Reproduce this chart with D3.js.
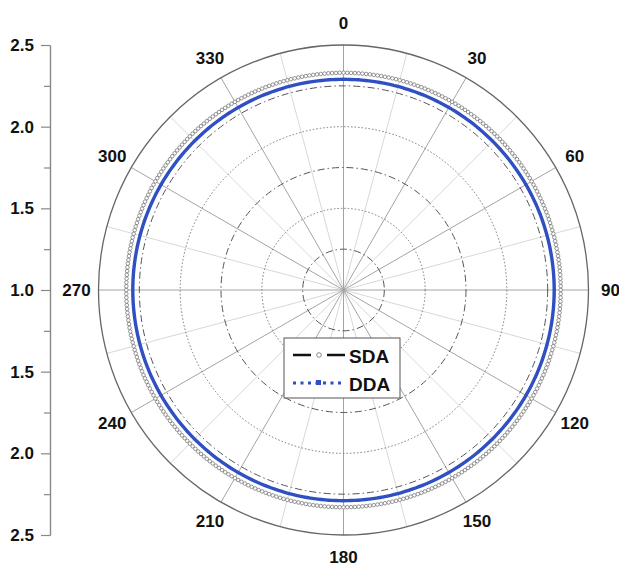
<!DOCTYPE html>
<html>
<head>
<meta charset="utf-8">
<script src="https://cdn.jsdelivr.net/npm/d3@7"></script>
<style>
  body { margin: 0; background: #fff; }
  svg { display: block; font-family: "Liberation Sans", Arial, sans-serif; }
</style>
</head>
<body>
<svg id="chart" width="619" height="569"></svg>
<script>
// ---- data ----
var angleLabels = [0, 30, 60, 90, 120, 150, 180, 210, 240, 270, 300, 330];
var gridRadii = [1.25, 1.5, 1.75, 2.0, 2.25];
var gridStyles = ["dashdot", "dot", "dashdot", "dot", "dashdot"];
var leftTicks = [-1.5, -1.0, -0.5, 0, 0.5, 1.0, 1.5];
var leftMinor = [-1.25, -0.75, -0.25, 0.25, 0.75, 1.25];

// one value per degree, 0..359
var sdaValues = [
  2.33,2.33,2.33,2.33,2.33,2.33,2.33,2.33,2.33,2.33,2.33,2.33,2.33,2.33,2.33,2.33,2.33,2.33,2.33,2.33,2.33,2.33,2.33,2.33,2.33,2.33,2.33,2.33,2.33,2.33,2.33,2.33,2.33,2.33,2.33,2.33,
  2.33,2.33,2.33,2.33,2.33,2.33,2.33,2.33,2.33,2.33,2.33,2.33,2.33,2.33,2.33,2.33,2.33,2.33,2.33,2.33,2.33,2.33,2.33,2.33,2.33,2.33,2.33,2.33,2.33,2.33,2.33,2.33,2.33,2.33,2.33,2.33,
  2.33,2.33,2.33,2.33,2.33,2.33,2.33,2.33,2.33,2.33,2.33,2.33,2.33,2.33,2.33,2.33,2.33,2.33,2.33,2.33,2.33,2.33,2.33,2.33,2.33,2.33,2.33,2.33,2.33,2.33,2.33,2.33,2.33,2.33,2.33,2.33,
  2.33,2.33,2.33,2.33,2.33,2.33,2.33,2.33,2.33,2.33,2.33,2.33,2.33,2.33,2.33,2.33,2.33,2.33,2.33,2.33,2.33,2.33,2.33,2.33,2.33,2.33,2.33,2.33,2.33,2.33,2.33,2.33,2.33,2.33,2.33,2.33,
  2.33,2.33,2.33,2.33,2.33,2.33,2.33,2.33,2.33,2.33,2.33,2.33,2.33,2.33,2.33,2.33,2.33,2.33,2.33,2.33,2.33,2.33,2.33,2.33,2.33,2.33,2.33,2.33,2.33,2.33,2.33,2.33,2.33,2.33,2.33,2.33,
  2.33,2.33,2.33,2.33,2.33,2.33,2.33,2.33,2.33,2.33,2.33,2.33,2.33,2.33,2.33,2.33,2.33,2.33,2.33,2.33,2.33,2.33,2.33,2.33,2.33,2.33,2.33,2.33,2.33,2.33,2.33,2.33,2.33,2.33,2.33,2.33,
  2.33,2.33,2.33,2.33,2.33,2.33,2.33,2.33,2.33,2.33,2.33,2.33,2.33,2.33,2.33,2.33,2.33,2.33,2.33,2.33,2.33,2.33,2.33,2.33,2.33,2.33,2.33,2.33,2.33,2.33,2.33,2.33,2.33,2.33,2.33,2.33,
  2.33,2.33,2.33,2.33,2.33,2.33,2.33,2.33,2.33,2.33,2.33,2.33,2.33,2.33,2.33,2.33,2.33,2.33,2.33,2.33,2.33,2.33,2.33,2.33,2.33,2.33,2.33,2.33,2.33,2.33,2.33,2.33,2.33,2.33,2.33,2.33,
  2.33,2.33,2.33,2.33,2.33,2.33,2.33,2.33,2.33,2.33,2.33,2.33,2.33,2.33,2.33,2.33,2.33,2.33,2.33,2.33,2.33,2.33,2.33,2.33,2.33,2.33,2.33,2.33,2.33,2.33,2.33,2.33,2.33,2.33,2.33,2.33,
  2.33,2.33,2.33,2.33,2.33,2.33,2.33,2.33,2.33,2.33,2.33,2.33,2.33,2.33,2.33,2.33,2.33,2.33,2.33,2.33,2.33,2.33,2.33,2.33,2.33,2.33,2.33,2.33,2.33,2.33,2.33,2.33,2.33,2.33,2.33,2.33
];
var ddaValues = [
  2.29,2.29,2.29,2.29,2.29,2.29,2.29,2.29,2.29,2.29,2.29,2.29,2.29,2.29,2.29,2.29,2.29,2.29,2.29,2.29,2.29,2.29,2.29,2.29,2.29,2.29,2.29,2.29,2.29,2.29,2.29,2.29,2.29,2.29,2.29,2.29,
  2.29,2.29,2.29,2.29,2.29,2.29,2.29,2.29,2.29,2.29,2.29,2.29,2.29,2.29,2.29,2.29,2.29,2.29,2.29,2.29,2.29,2.29,2.29,2.29,2.29,2.29,2.29,2.29,2.29,2.29,2.29,2.29,2.29,2.29,2.29,2.29,
  2.29,2.29,2.29,2.29,2.29,2.29,2.29,2.29,2.29,2.29,2.29,2.29,2.29,2.29,2.29,2.29,2.29,2.29,2.29,2.29,2.29,2.29,2.29,2.29,2.29,2.29,2.29,2.29,2.29,2.29,2.29,2.29,2.29,2.29,2.29,2.29,
  2.29,2.29,2.29,2.29,2.29,2.29,2.29,2.29,2.29,2.29,2.29,2.29,2.29,2.29,2.29,2.29,2.29,2.29,2.29,2.29,2.29,2.29,2.29,2.29,2.29,2.29,2.29,2.29,2.29,2.29,2.29,2.29,2.29,2.29,2.29,2.29,
  2.29,2.29,2.29,2.29,2.29,2.29,2.29,2.29,2.29,2.29,2.29,2.29,2.29,2.29,2.29,2.29,2.29,2.29,2.29,2.29,2.29,2.29,2.29,2.29,2.29,2.29,2.29,2.29,2.29,2.29,2.29,2.29,2.29,2.29,2.29,2.29,
  2.29,2.29,2.29,2.29,2.29,2.29,2.29,2.29,2.29,2.29,2.29,2.29,2.29,2.29,2.29,2.29,2.29,2.29,2.29,2.29,2.29,2.29,2.29,2.29,2.29,2.29,2.29,2.29,2.29,2.29,2.29,2.29,2.29,2.29,2.29,2.29,
  2.29,2.29,2.29,2.29,2.29,2.29,2.29,2.29,2.29,2.29,2.29,2.29,2.29,2.29,2.29,2.29,2.29,2.29,2.29,2.29,2.29,2.29,2.29,2.29,2.29,2.29,2.29,2.29,2.29,2.29,2.29,2.29,2.29,2.29,2.29,2.29,
  2.29,2.29,2.29,2.29,2.29,2.29,2.29,2.29,2.29,2.29,2.29,2.29,2.29,2.29,2.29,2.29,2.29,2.29,2.29,2.29,2.29,2.29,2.29,2.29,2.29,2.29,2.29,2.29,2.29,2.29,2.29,2.29,2.29,2.29,2.29,2.29,
  2.29,2.29,2.29,2.29,2.29,2.29,2.29,2.29,2.29,2.29,2.29,2.29,2.29,2.29,2.29,2.29,2.29,2.29,2.29,2.29,2.29,2.29,2.29,2.29,2.29,2.29,2.29,2.29,2.29,2.29,2.29,2.29,2.29,2.29,2.29,2.29,
  2.29,2.29,2.29,2.29,2.29,2.29,2.29,2.29,2.29,2.29,2.29,2.29,2.29,2.29,2.29,2.29,2.29,2.29,2.29,2.29,2.29,2.29,2.29,2.29,2.29,2.29,2.29,2.29,2.29,2.29,2.29,2.29,2.29,2.29,2.29,2.29
];

// ---- layout ----
var cx = 343.5, cy = 290, R = 245;
var svg = d3.select("#chart");
var rScale = d3.scaleLinear().domain([1.0, 2.5]).range([0, R]);
var rad = function(deg) { return deg * Math.PI / 180; };
var dashes = { dashdot: "7,3,1.5,3", dot: "1.5,2" };

var g = svg.append("g").attr("transform", "translate(" + cx + "," + cy + ")");

// *********** SPOKES ***************** //
var minorSpokes = d3.range(15, 360, 30);
g.selectAll(".spoke-minor").data(minorSpokes).enter().append("line")
  .attr("class", "spoke-minor")
  .attr("x1", 0).attr("y1", 0)
  .attr("x2", function(d) { return R * Math.sin(rad(d)); })
  .attr("y2", function(d) { return -R * Math.cos(rad(d)); })
  .attr("stroke", "#d8d8d8")
  .attr("stroke-width", 1);

g.selectAll(".spoke").data(angleLabels).enter().append("line")
  .attr("class", "spoke")
  .attr("x1", 0).attr("y1", 0)
  .attr("x2", function(d) { return R * Math.sin(rad(d)); })
  .attr("y2", function(d) { return -R * Math.cos(rad(d)); })
  .attr("stroke", "#a4a4a4")
  .attr("stroke-width", 1);

// *********** GRID CIRCLES ***************** //
g.selectAll(".ring").data(gridRadii).enter().append("circle")
  .attr("class", "ring")
  .attr("r", function(d) { return rScale(d); })
  .attr("fill", "none")
  .attr("stroke", function(d, i) { return gridStyles[i] == "dot" ? "#777" : "#555"; })
  .attr("stroke-width", 1)
  .attr("stroke-dasharray", function(d, i) { return dashes[gridStyles[i]]; });

g.append("circle")
  .attr("r", rScale(2.5))
  .attr("fill", "none")
  .attr("stroke", "#666")
  .attr("stroke-width", 1.3);

// *********** SERIES ***************** //
var sdaPts = sdaValues.map(function(v, i) { return { a: i * 360 / sdaValues.length, v: v }; });
var ddaPts = ddaValues.map(function(v, i) { return { a: i * 360 / ddaValues.length, v: v }; });

var radial = d3.lineRadial()
  .angle(function(d) { return rad(d.a); })
  .radius(function(d) { return rScale(d.v); })
  .curve(d3.curveLinearClosed);

g.append("path")
  .attr("d", radial(sdaPts))
  .attr("fill", "none")
  .attr("stroke", "#555")
  .attr("stroke-width", 0.8);

g.selectAll(".sda").data(sdaPts).enter().append("circle")
  .attr("class", "sda")
  .attr("cx", function(d) { return rScale(d.v) * Math.sin(rad(d.a)); })
  .attr("cy", function(d) { return -rScale(d.v) * Math.cos(rad(d.a)); })
  .attr("r", 1.8)
  .attr("fill", "#fff")
  .attr("stroke", "#7a7a7a")
  .attr("stroke-width", 0.8);

g.append("path")
  .attr("d", radial(ddaPts))
  .attr("fill", "none")
  .attr("stroke", "#2f4fc2")
  .attr("stroke-width", 3.4);

// *********** ANGLE LABELS ***************** //
g.selectAll(".alabel").data(angleLabels).enter().append("text")
  .attr("class", "alabel")
  .attr("x", function(d) { return (R + 22) * Math.sin(rad(d)); })
  .attr("y", function(d) { return -(R + 22) * Math.cos(rad(d)); })
  .attr("text-anchor", "middle")
  .attr("dominant-baseline", "central")
  .style("font-size", "17px")
  .style("font-weight", "bold")
  .style("fill", "#111")
  .text(function(d) { return d; });

// *********** LEGEND ***************** //
var leg = svg.append("g").attr("transform", "translate(284,338)");
leg.append("rect")
  .attr("width", 116).attr("height", 60)
  .attr("fill", "#fff")
  .attr("stroke", "#555")
  .attr("stroke-width", 1);

leg.append("line")
  .attr("x1", 9).attr("x2", 61).attr("y1", 17).attr("y2", 17)
  .attr("stroke", "#111").attr("stroke-width", 2.5)
  .attr("stroke-dasharray", "18,16");
leg.append("circle")
  .attr("cx", 35).attr("cy", 17).attr("r", 2.3)
  .attr("fill", "#fff").attr("stroke", "#888").attr("stroke-width", 1);
leg.append("text")
  .attr("x", 65).attr("y", 18)
  .attr("dominant-baseline", "central")
  .style("font-size", "19px").style("font-weight", "bold").style("fill", "#111")
  .text("SDA");

leg.append("line")
  .attr("x1", 9).attr("x2", 61).attr("y1", 45).attr("y2", 45)
  .attr("stroke", "#2f4fc2").attr("stroke-width", 3)
  .attr("stroke-dasharray", "3,4.5");
leg.append("rect")
  .attr("x", 32).attr("y", 42).attr("width", 5).attr("height", 5)
  .attr("fill", "#2f4fc2");
leg.append("text")
  .attr("x", 65).attr("y", 46)
  .attr("dominant-baseline", "central")
  .style("font-size", "19px").style("font-weight", "bold").style("fill", "#111")
  .text("DDA");

// *********** LEFT AXIS ***************** //
var yScale = d3.scaleLinear().domain([-1.5, 1.5]).range([cy - R, cy + R]);

var yMinor = svg.append("g")
  .attr("transform", "translate(50,0)")
  .call(d3.axisLeft(yScale).tickValues(leftMinor).tickFormat("").tickSize(6).tickSizeOuter(0));

var yAxis = svg.append("g")
  .attr("transform", "translate(50,0)")
  .call(d3.axisLeft(yScale).tickValues(leftTicks)
    .tickFormat(function(d) { return (1 + Math.abs(d)).toFixed(1); })
    .tickSize(9).tickSizeOuter(0).tickPadding(7));

svg.selectAll(".domain, .tick line").attr("stroke", "#888").attr("stroke-width", 1.2);
yAxis.selectAll("text")
  .style("font-family", "Liberation Sans, Arial, sans-serif")
  .style("font-size", "17px")
  .style("font-weight", "bold")
  .style("fill", "#111");
</script>
</body>
</html>
